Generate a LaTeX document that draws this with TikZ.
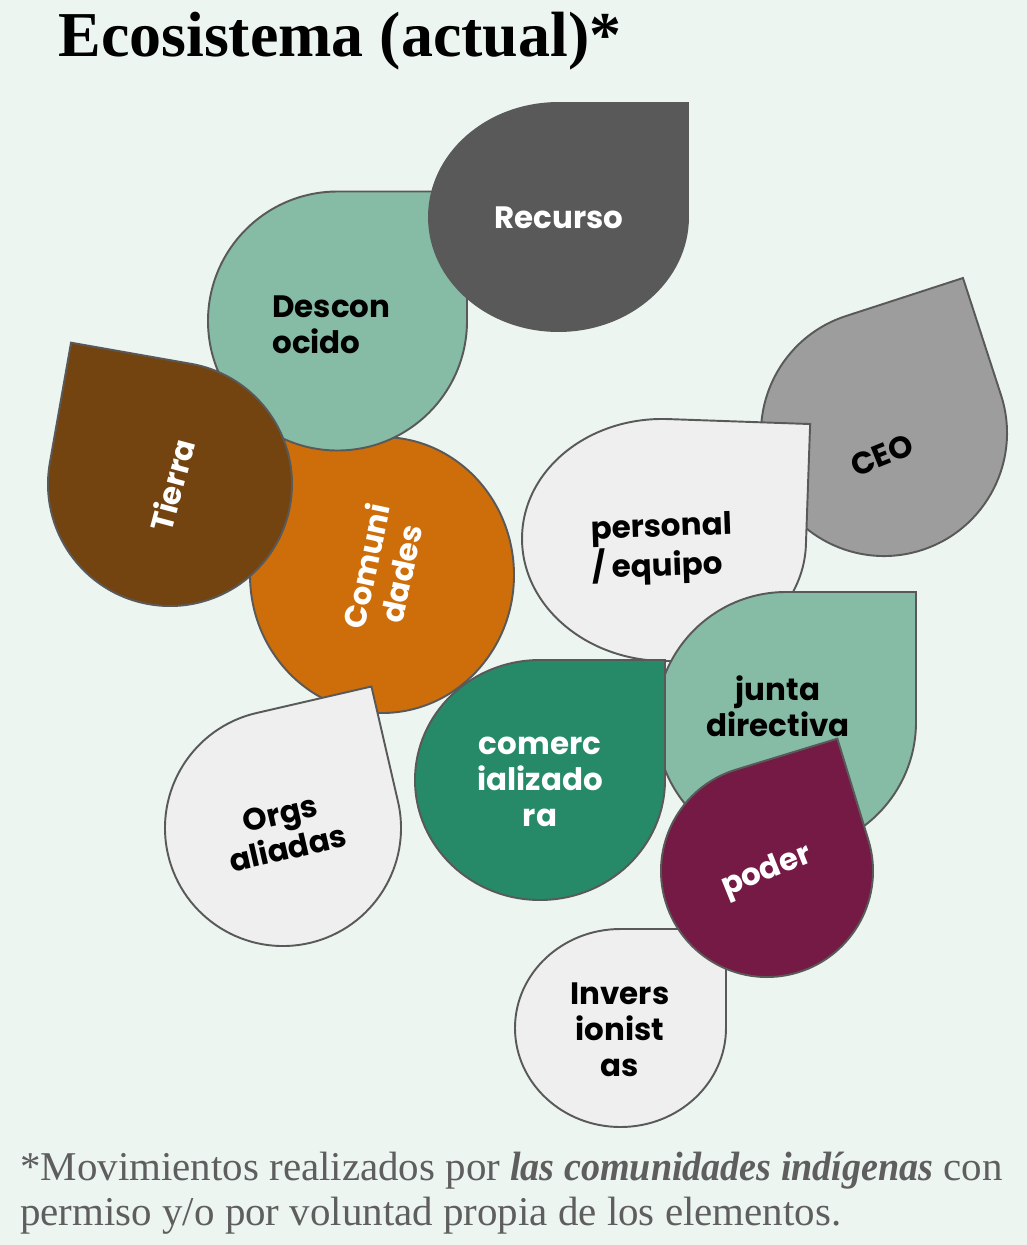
\documentclass[tikz,border=0pt]{standalone}
\usepackage{xcolor}
\usepackage{fontspec}
\setmainfont{Liberation Serif}[BoldItalicFeatures={FakeStretch=0.93}]
\newfontfamily\popfont{Poppins}
\usepackage{tikz}
\usetikzlibrary{positioning}
\definecolor{fondo}{HTML}{EDF5F1}
\definecolor{borde}{HTML}{595959}
\definecolor{recursogris}{HTML}{595959}
\definecolor{menta}{HTML}{86BBA6}
\definecolor{tierracafe}{HTML}{744410}
\definecolor{naranja}{HTML}{CD6E0A}
\definecolor{claro}{HTML}{EFEFEF}
\definecolor{ceogris}{HTML}{9D9D9D}
\definecolor{verdeosc}{HTML}{268A69}
\definecolor{vino}{HTML}{741A44}
\definecolor{notagris}{HTML}{5E5E5E}
\tikzset{
  gota/.pic={\path[pic actions] (1,1) -- (0,1) arc[start angle=90, end angle=360, radius=1] -- cycle;},
  gotaborde/.style={draw=borde, line width=1.1pt},
  etiq/.style={font=\popfont\bfseries\fontsize{17.6}{20.5}\selectfont, align=center, inner sep=0pt},
  nota/.style={anchor=base west, inner sep=0pt, text=notagris, font=\fontsize{23.3}{25.6}\selectfont},
}

\begin{document}
\begin{tikzpicture}[x=0.02cm,y=0.02cm]
  \fill[fondo] (0,0) rectangle (1027,-1245);
  \useasboundingbox (0,0) rectangle (1027,-1245);

  \node[anchor=base west, inner sep=0pt, font=\bfseries\fontsize{36.4}{40}\selectfont] (titulo) at (58,-56) {Ecosistema (actual)*};

  \pic[gotaborde, fill=ceogris, rotate=18, scale=123] at (884,-433) {gota};
  \node[etiq, rotate=22] (ceo) at (882,-455) {CEO};

  \pic[gotaborde, fill=claro, rotate=-2, xscale=142, yscale=121] at (664,-540) {gota};
  \node[etiq, align=left, rotate=2] (personal) at (662,-549) {personal\\/ equipo};

  \pic[gotaborde, fill=menta, scale=130] at (786,-722) {gota};
  \node[etiq] (junta) at (778,-706) {junta\\directiva};

  \pic[gotaborde, fill=verdeosc, xscale=125, yscale=120] at (540,-780) {gota};
  \node[etiq, text=white] (comerc) at (540,-782) {comerc\\ializado\\ra};

  \pic[gotaborde, fill=claro, xscale=105.5, yscale=99] at (620.5,-1028) {gota};
  \node[etiq] (invers) at (620,-1030) {Invers\\ionist\\as};

  \pic[gotaborde, fill=vino, rotate=17, scale=106] at (767,-871) {gota};
  \node[etiq, text=white, rotate=22] (poder) at (767,-872) {poder};

  \pic[gotaborde, fill=naranja, rotate=90, xscale=138, yscale=132] at (382,-575) {gota};
  \node[etiq, text=white, rotate=78] (comunidades) at (383,-570) {Comuni\\dades};

  \pic[gotaborde, fill=menta, scale=129.5] at (337.5,-321) {gota};
  \node[etiq, align=left, anchor=west] (descon) at (272,-325) {Descon\\ocido};

  \pic[draw=recursogris, line width=1.1pt, fill=recursogris, xscale=129.5, yscale=114] at (558.5,-217) {gota};
  \node[etiq, text=white] (recurso) at (559,-218) {Recurso};

  \pic[gotaborde, fill=tierracafe, rotate=80, scale=122] at (170,-484) {gota};
  \node[etiq, text=white, rotate=75] (tierra) at (172,-485) {Tierra};

  \pic[gotaborde, fill=claro, rotate=13, scale=118] at (283,-828) {gota};
  \node[etiq, rotate=13] (orgs) at (284,-831) {Orgs\\aliadas};

  \node[nota] (nota1) at (20,-1180) {*Movimientos realizados por \textbf{\textit{las comunidades indígenas}} con};
  \node[nota] (nota2) at (20,-1225) {permiso y/o por voluntad propia de los elementos.};
\end{tikzpicture}
\end{document}
